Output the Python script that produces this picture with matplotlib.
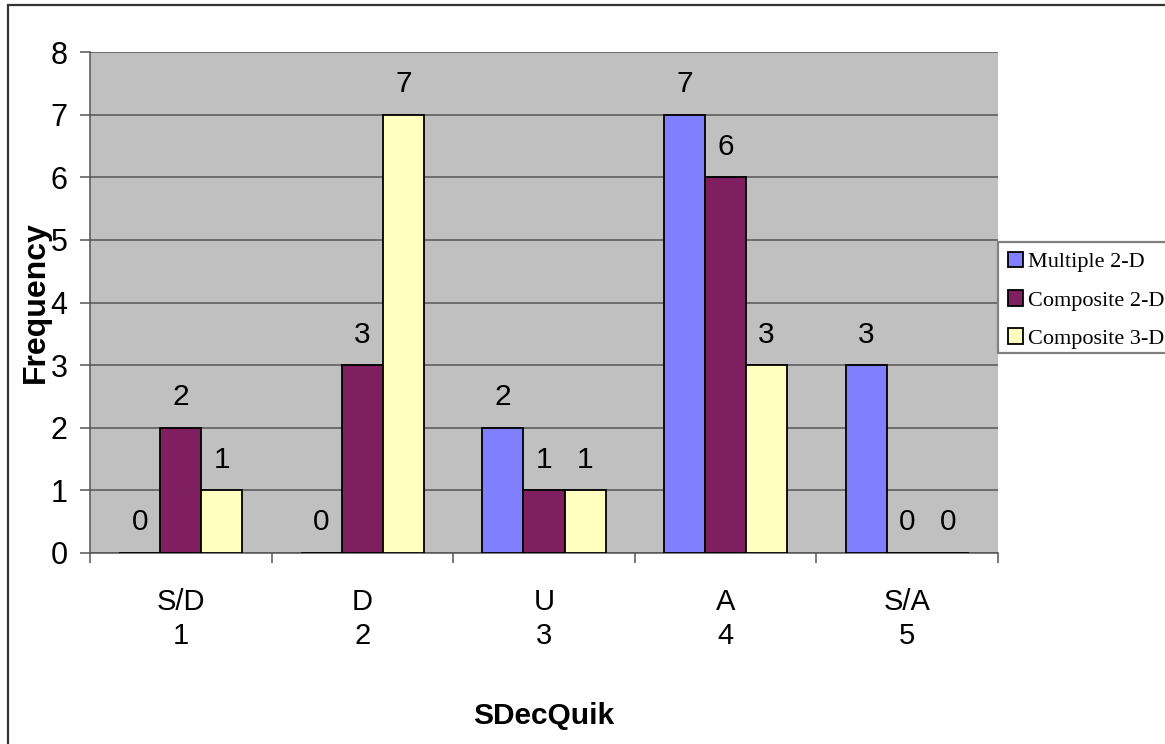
import matplotlib
matplotlib.use("Agg")
import matplotlib.pyplot as plt
from matplotlib.patches import Rectangle
import numpy as np

# Response categories and frequencies per display type
categories = ["S/D\n1", "D\n2", "U\n3", "A\n4", "S/A\n5"]
series_names = ["Multiple 2-D", "Composite 2-D", "Composite 3-D"]
multiple_2d = [0, 0, 2, 7, 3]
composite_2d = [2, 3, 1, 6, 0]
composite_3d = [1, 7, 1, 3, 0]
colors = ["#8080FF", "#7F1F5F", "#FFFFC0"]

W, H, DPI = 1165, 744, 100
fig = plt.figure(figsize=(W / DPI, H / DPI), dpi=DPI)
fig.patch.set_facecolor("white")


def px(x0, y0, x1, y1):
    """Pixel box (top-left origin) -> figure fraction rect."""
    return [x0 / W, 1 - y1 / H, (x1 - x0) / W, (y1 - y0) / H]


# chart-area border (left and top edges visible)
fig.patches.append(Rectangle((8 / W, -0.1), 1.2, 1 - 5 / H + 0.1,
                             transform=fig.transFigure, fill=False,
                             edgecolor="#333333", linewidth=1.6, zorder=0))

ax = fig.add_axes(px(90, 52, 998, 553))
ax.set_facecolor("#C0C0C0")

x = np.arange(len(categories))
bw = 0.226
all_series = [multiple_2d, composite_2d, composite_3d]
containers = []
for i, (vals, c) in enumerate(zip(all_series, colors)):
    bars = ax.bar(x + (i - 1) * bw, vals, width=bw, color=c,
                  edgecolor="black", linewidth=1.3, zorder=3,
                  label=series_names[i])
    containers.append(bars)
    for xi, v in zip(x + (i - 1) * bw, vals):
        ax.annotate(f"{v}", (xi, v), xytext=(0, 22), textcoords="offset points",
                    ha="center", va="center", fontsize=21.5,
                    fontfamily="Liberation Sans", zorder=4)

ax.set_xlim(-0.5, len(categories) - 0.5)
ax.set_ylim(0, 8)
ax.set_yticks(range(0, 9))
ax.grid(axis="y", color="#555555", linewidth=1.1, zorder=1)
ax.set_axisbelow(True)

for side in ["top", "right"]:
    ax.spines[side].set_visible(False)
ax.spines["left"].set_color("#555555")
ax.spines["bottom"].set_color("#555555")
ax.spines["left"].set_linewidth(1.1)
ax.spines["bottom"].set_linewidth(1.1)
ax.spines["bottom"].set_zorder(2)

ax.tick_params(axis="y", length=7.2, width=1.1, color="#555555", pad=9,
               labelsize=22)
for lab in ax.get_yticklabels():
    lab.set_fontfamily("Liberation Sans")

ax.set_xticks(x)
ax.set_xticklabels(categories, fontsize=21, fontfamily="Liberation Sans",
                   linespacing=1.3)
ax.tick_params(axis="x", length=0, pad=25)
ax.set_xticks(np.arange(-0.5, len(categories)), minor=True)
ax.tick_params(axis="x", which="minor", length=7.2, width=1.1, color="#555555")

ax.set_xlabel("SDecQuik", fontsize=21.5, fontweight="bold",
              fontfamily="Liberation Sans", va="center")
ax.xaxis.set_label_coords(0.5, (553 - 716) / 501)
ax.set_ylabel("Frequency", fontsize=23, fontweight="bold",
              fontfamily="Liberation Sans", va="center")
ax.yaxis.set_label_coords((36 - 90) / 908, 0.5)

# legend frame and entries
fig.patches.append(Rectangle((998 / W, 1 - 353 / H), 0.3, (353 - 242) / H,
                             transform=fig.transFigure, facecolor="white",
                             edgecolor="#808080", linewidth=1.6, zorder=5))
leg = fig.legend(handles=containers, labels=series_names, loc="upper left",
                 bbox_to_anchor=(1001 / W, 1 - 245 / H), frameon=False,
                 prop={"family": "Liberation Serif", "size": 16},
                 handlelength=0.7, handleheight=0.7, handletextpad=0.2,
                 labelspacing=0.8, borderpad=0.3, borderaxespad=0)
leg.set_zorder(6)

fig.savefig("out.png", dpi=DPI)
